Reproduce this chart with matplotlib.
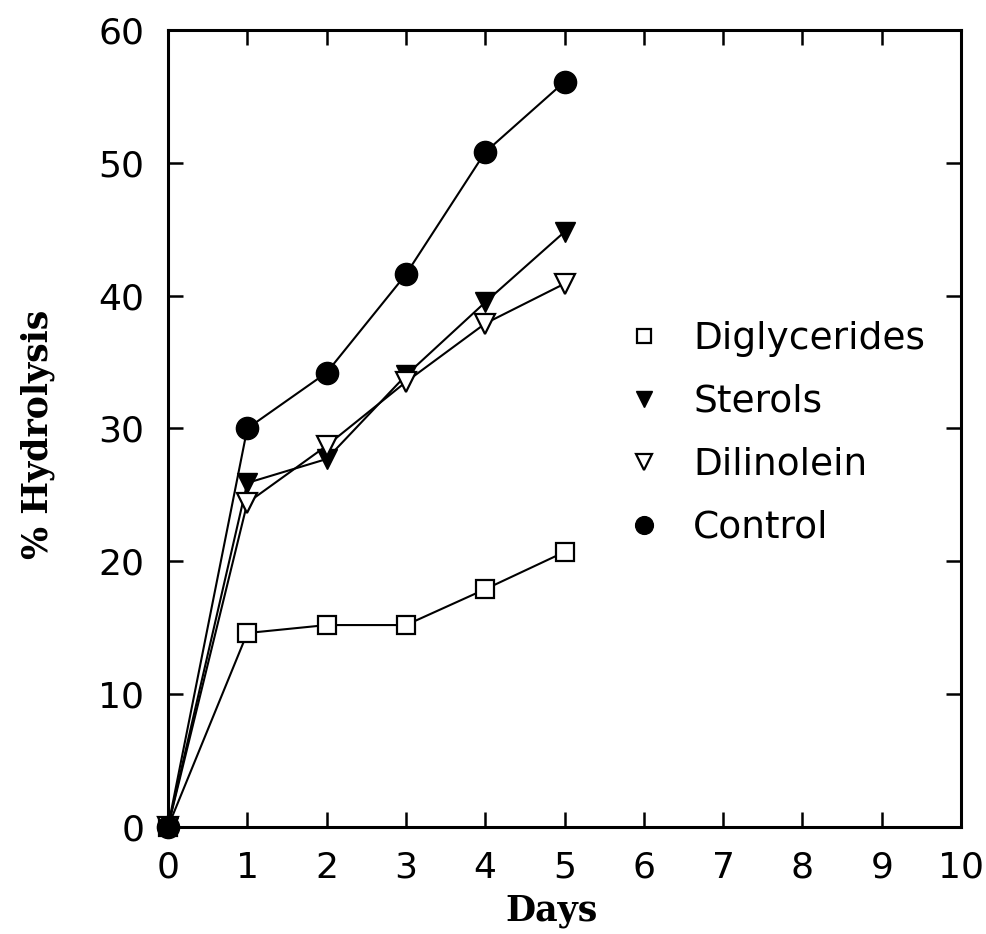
import matplotlib
matplotlib.use("Agg")
import matplotlib.pyplot as plt

days = [0, 1, 2, 3, 4, 5]
diglycerides = [0, 14.6, 15.2, 15.2, 17.9, 20.7]
sterols = [0, 25.9, 27.7, 34.0, 39.5, 44.8]
dilinolein = [0, 24.4, 28.7, 33.5, 37.9, 40.9]
control = [0, 30.0, 34.2, 41.6, 50.8, 56.1]

fig = plt.figure(figsize=(9.87, 9.34), dpi=100)
ax = fig.add_axes([0.1702, 0.1146, 0.8035, 0.8533])

line_kw = dict(color="black", lw=1.5, clip_on=False, zorder=3)
ax.plot(days, diglycerides, marker="s", ms=13, mfc="white", mec="black", mew=1.6,
        label="Diglycerides", **line_kw)
ax.plot(days, sterols, marker="v", ms=15, mfc="black", mec="black",
        label="Sterols", **line_kw)
ax.plot(days, dilinolein, marker="v", ms=15, mfc="white", mec="black", mew=1.6,
        label="Dilinolein", **line_kw)
ax.plot(days, control, marker="o", ms=16, mfc="black", mec="black",
        label="Control", **line_kw)

ax.set_xlim(0, 10)
ax.set_ylim(0, 60)
ax.set_xticks(range(0, 11))
ax.set_yticks(range(0, 61, 10))
ax.tick_params(direction="in", length=11, width=1.8, top=True, right=True,
               labelsize=26)
ax.tick_params(axis="x", pad=17)
ax.tick_params(axis="y", pad=17)
for sp in ax.spines.values():
    sp.set_linewidth(2.2)

ax.set_xlabel("Days", fontsize=25, fontweight="bold", family="DejaVu Serif")
ax.set_ylabel("% Hydrolysis", fontsize=25, fontweight="bold", family="DejaVu Serif")
ax.xaxis.set_label_coords(0.484, -0.084)
ax.yaxis.set_label_coords(-0.142, 0.492)

ax.legend(loc="center left", bbox_to_anchor=(0.558, 0.494), frameon=False,
          prop={"size": 27}, handlelength=0, handletextpad=1.3,
          labelspacing=0.72, markerscale=0.8)

fig.savefig("out.png", dpi=100)
